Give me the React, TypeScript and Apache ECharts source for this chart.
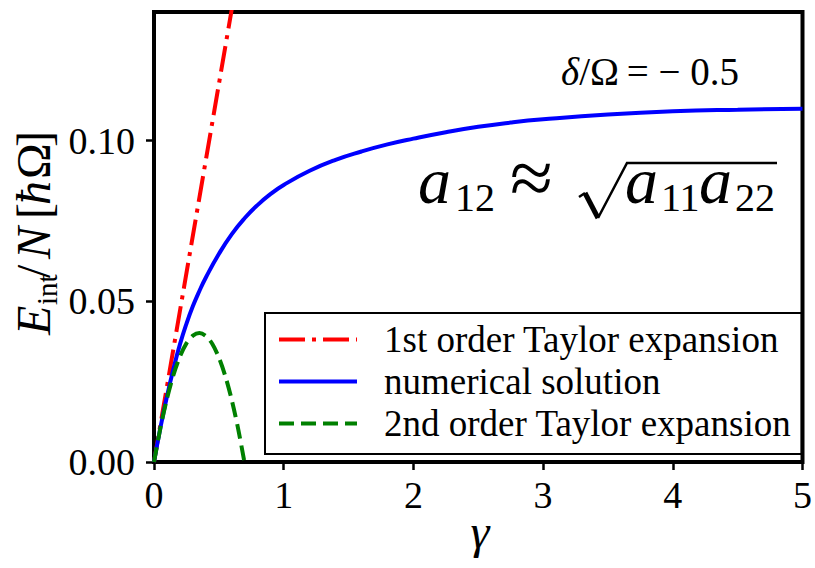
import React, { useEffect, useRef } from "react";
import * as echarts from "echarts";

// gamma axis and energy axis ticks
const gammaTicks = [0, 1, 2, 3, 4, 5];
const energyTicks = [0, 0.05, 0.1];

const seriesNames = [
  "1st order Taylor expansion",
  "numerical solution",
  "2nd order Taylor expansion",
];

// first-order expansion: straight line through the origin
const firstOrderGamma = [0, 0.62];
const firstOrderEnergy = [0, 0.1457];

// numerically computed interaction energy per particle
const numericalGamma = [
  0, 0.05, 0.1, 0.15, 0.2, 0.25, 0.3, 0.35, 0.4, 0.5, 0.6, 0.7, 0.8, 0.9, 1.0,
  1.2, 1.4, 1.6, 1.8, 2.0, 2.25, 2.5, 2.75, 3.0, 3.5, 4.0, 4.5, 5.0,
];
const numericalEnergy = [
  0, 0.0108, 0.0204, 0.029, 0.0366, 0.043, 0.0485, 0.0532, 0.0574, 0.0647,
  0.0709, 0.0759, 0.08, 0.0834, 0.0862, 0.0906, 0.094, 0.0966, 0.0988,
  0.1006, 0.1026, 0.1043, 0.1056, 0.1066, 0.1081, 0.1091, 0.1096, 0.1099,
];

// second-order expansion (parabola, dips below zero just after 0.69)
const secondOrderGamma = [
  0, 0.05, 0.1, 0.15, 0.2, 0.25, 0.3, 0.35, 0.4, 0.45, 0.5, 0.55, 0.6, 0.65,
  0.7,
];
const secondOrderEnergy = [
  0, 0.0107, 0.0197, 0.0271, 0.0328, 0.0369, 0.0393, 0.0401, 0.0392, 0.0367,
  0.0325, 0.0267, 0.0192, 0.0101, -0.0007,
];

const serif = "Liberation Serif";

const zip = (xs: number[], ys: number[]) => xs.map((x, i) => [x, ys[i]]);

// text piece placed by its left edge and alphabetic baseline
function piece(
  text: string,
  x: number,
  baseline: number,
  size: number,
  italic = false,
  family = serif
) {
  return {
    type: "text",
    x,
    y: baseline - 0.3375 * size,
    style: {
      text,
      fontSize: size,
      fontFamily: family,
      fontStyle: italic ? "italic" : "normal",
      fill: "#000",
      align: "left",
      verticalAlign: "middle",
      textAlign: "left",
      textVerticalAlign: "middle",
    },
  };
}

export default function App() {
  const ref = useRef<HTMLDivElement>(null);

  useEffect(() => {
    if (!ref.current) return;
    const chart = echarts.init(ref.current, null, { renderer: "svg" });

    const option = {
      animation: false,
      backgroundColor: "#fff",
      grid: {
        left: 154,
        right: 7.5,
        top: 12,
        bottom: 106,
        show: true,
        borderColor: "#000",
        borderWidth: 4,
        backgroundColor: "transparent",
      },
      xAxis: {
        type: "value",
        min: gammaTicks[0],
        max: gammaTicks[gammaTicks.length - 1],
        interval: 1,
        axisLine: { show: false },
        axisTick: {
          show: true,
          inside: false,
          length: 8,
          lineStyle: { color: "#000", width: 2.5 },
        },
        axisLabel: {
          color: "#000",
          fontFamily: serif,
          fontSize: 38,
          margin: 14,
          formatter: (v: number) => String(v),
        },
        splitLine: { show: false },
      },
      yAxis: {
        type: "value",
        min: 0,
        max: 0.14,
        interval: 0.05,
        axisLine: { show: false },
        axisTick: {
          show: true,
          inside: false,
          length: 8,
          customValues: energyTicks,
          lineStyle: { color: "#000", width: 2.5 },
        },
        axisLabel: {
          color: "#000",
          fontFamily: serif,
          fontSize: 38,
          margin: 19,
          customValues: energyTicks,
          formatter: (v: number) => v.toFixed(2),
        },
        splitLine: { show: false },
      },
      legend: {
        data: seriesNames,
        orient: "vertical",
        left: 265,
        top: 313,
        padding: [8, 10, 12, 12],
        itemWidth: 78,
        itemHeight: 14,
        itemGap: 5,
        borderColor: "#000",
        borderWidth: 2,
        borderRadius: 0,
        backgroundColor: "#fff",
        selectedMode: false,
        itemStyle: { opacity: 0 },
        lineStyle: { width: 4 },
        textStyle: {
          fontFamily: serif,
          fontSize: 37,
          color: "#000",
          padding: [0, 0, 0, 22],
        },
      },
      series: [
        {
          name: seriesNames[0],
          type: "line",
          data: zip(firstOrderGamma, firstOrderEnergy),
          symbol: "none",
          showSymbol: false,
          lineStyle: { color: "#ff0000", width: 4, type: [26, 7, 4, 7] },
          itemStyle: { color: "#ff0000" },
          z: 2,
        },
        {
          name: seriesNames[1],
          type: "line",
          data: zip(numericalGamma, numericalEnergy),
          symbol: "none",
          showSymbol: false,
          smooth: 0.5,
          lineStyle: { color: "#0000ff", width: 4 },
          itemStyle: { color: "#0000ff" },
          z: 3,
        },
        {
          name: seriesNames[2],
          type: "line",
          data: zip(secondOrderGamma, secondOrderEnergy),
          symbol: "none",
          showSymbol: false,
          smooth: 0.3,
          lineStyle: { color: "#008000", width: 4, type: [15, 7] },
          itemStyle: { color: "#008000" },
          z: 4,
        },
      ],
      graphic: [
        // y-axis title, rotated to read bottom-to-top
        {
          type: "group",
          x: 50,
          y: 335,
          rotation: Math.PI / 2,
          children: [
            piece("E", 0, 0, 48, true),
            piece("int", 30, 7, 29),
            piece("/", 57, 0, 48),
            piece("N", 76, 0, 48, true),
            piece("[", 116, 0, 48),
            piece("ħ", 130, 0, 48, true),
            piece("Ω", 156, 0, 48),
            piece("]", 188, 0, 48),
          ],
        },
        // x-axis title
        {
          type: "text",
          x: 480,
          y: 548 - 0.3375 * 48,
          style: {
            text: "γ",
            fontSize: 48,
            fontFamily: serif,
            fontStyle: "italic",
            fill: "#000",
            align: "center",
            verticalAlign: "middle",
            textAlign: "center",
            textVerticalAlign: "middle",
          },
        },
        // detuning annotation
        {
          type: "text",
          x: 561,
          y: 85 - 0.3375 * 39,
          style: {
            text: "{i|δ}{r|/Ω\u2009= − 0.5}",
            rich: {
              i: { fontSize: 39, fontFamily: serif, fontStyle: "italic", fill: "#000" },
              r: { fontSize: 39, fontFamily: serif, fill: "#000" },
            },
            fontSize: 39,
            fontFamily: serif,
            fill: "#000",
            align: "left",
            verticalAlign: "middle",
            textAlign: "left",
            textVerticalAlign: "middle",
          },
        },
        // a12 ≈ sqrt(a11 a22)
        piece("a", 418, 203, 66, true),
        piece("12", 455, 211, 40),
        piece("≈", 510, 204, 78),
        {
          type: "polyline",
          shape: {
            points: [
              [579, 197],
              [585, 193],
            ],
          },
          style: { stroke: "#000", lineWidth: 2.5, fill: "none" },
        },
        {
          type: "polyline",
          shape: {
            points: [
              [585, 193],
              [598, 218],
            ],
          },
          style: { stroke: "#000", lineWidth: 5, fill: "none" },
        },
        {
          type: "polyline",
          shape: {
            points: [
              [598, 218],
              [627, 163],
              [777, 163],
            ],
          },
          style: { stroke: "#000", lineWidth: 2.5, fill: "none", lineJoin: "miter" },
        },
        piece("a", 625, 203, 66, true),
        piece("11", 661, 211, 40),
        piece("a", 699, 203, 66, true),
        piece("22", 735, 211, 40),
      ],
    };

    chart.setOption(option as any);
    return () => chart.dispose();
  }, []);

  return (
    <div
      ref={ref}
      style={{ position: "fixed", left: 0, top: 0, width: 815, height: 568 }}
    />
  );
}
